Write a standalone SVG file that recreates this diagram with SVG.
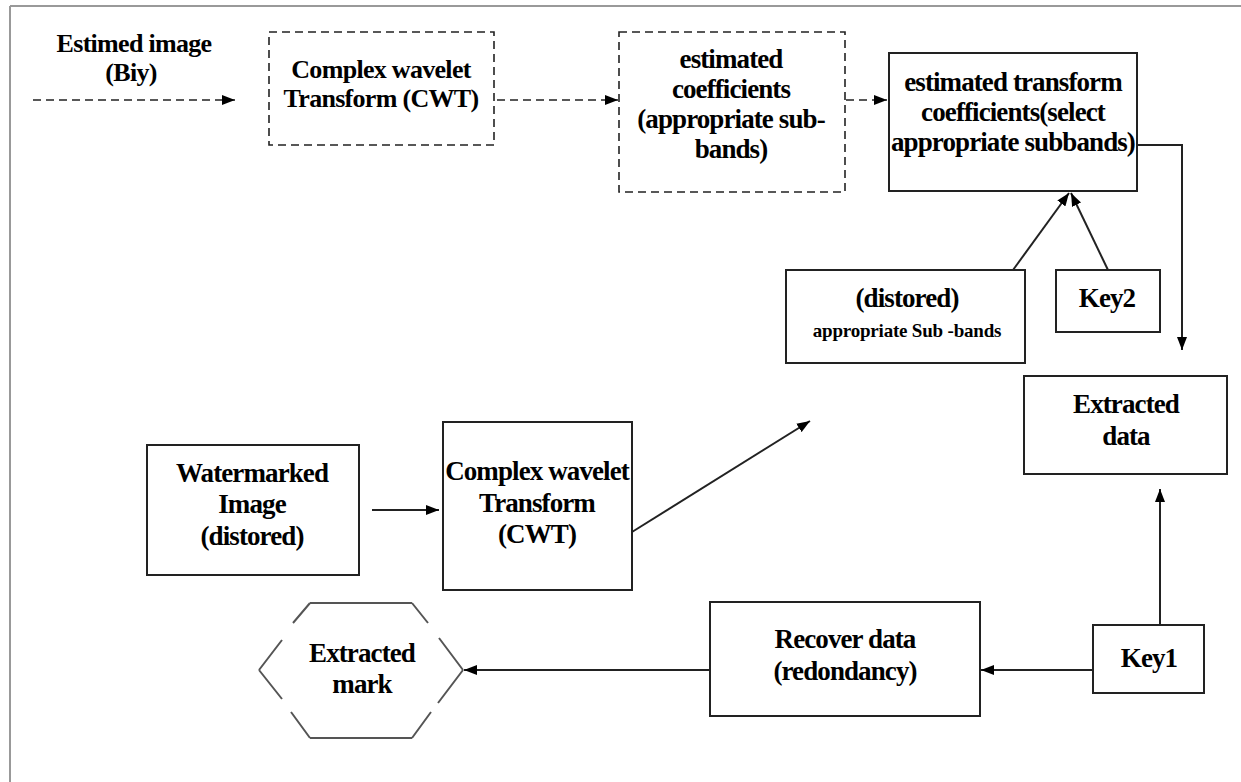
<svg xmlns="http://www.w3.org/2000/svg" width="1241" height="782" viewBox="0 0 1241 782">
<style>
.t{font-family:"Liberation Serif","Times New Roman",serif;font-weight:bold;font-size:27px;fill:#000;text-anchor:middle;letter-spacing:-0.9px}
.m{font-size:26px;letter-spacing:-0.7px}
.s{font-size:19px;letter-spacing:-0.2px}
.box{fill:#fff;stroke:#222;stroke-width:2}
.dbox{fill:#fff;stroke:#222;stroke-width:1.6;stroke-dasharray:8 5}
.ln{fill:none;stroke:#222;stroke-width:2}
.dl{fill:none;stroke:#222;stroke-width:1.6;stroke-dasharray:8 5}
.hex{fill:none;stroke:#555;stroke-width:2}
</style>
<defs>
<marker id="ah" viewBox="0 0 13 10" refX="13" refY="5" markerWidth="13" markerHeight="10" markerUnits="userSpaceOnUse" orient="auto">
<path d="M0,0 L13,5 L0,10 z" fill="#000"/>
</marker>
</defs>
<rect width="1241" height="782" fill="#fff"/>
<g id="frame">
<line x1="10" y1="6" x2="1241" y2="6" stroke="#999" stroke-width="2"/>
<line x1="10" y1="6" x2="10" y2="782" stroke="#999" stroke-width="2"/>
</g>
<g id="estimed-image">
<text class="t m" x="134" y="52">Estimed image</text>
<text class="t m" x="131" y="81">(Biy)</text>
</g>
<g id="cwt-top">
<rect class="dbox" x="269" y="32" width="225" height="113"/>
<text class="t m" x="381" y="78">Complex wavelet</text>
<text class="t m" x="381" y="107">Transform (CWT)</text>
</g>
<g id="est-coeff">
<rect class="dbox" x="619" y="32" width="226" height="160"/>
<text class="t" x="731" y="68">estimated</text>
<text class="t" x="731" y="98">coefficients</text>
<text class="t" x="731" y="128">(appropriate sub-</text>
<text class="t" x="731" y="158">bands)</text>
</g>
<g id="est-transform">
<rect class="box" x="889" y="53" width="248" height="138"/>
<text class="t" x="1013" y="91">estimated transform</text>
<text class="t" x="1013" y="121">coefficients(select</text>
<text class="t" x="1013" y="151">appropriate subbands)</text>
</g>
<g id="distored-subbands">
<rect class="box" x="786" y="270" width="239" height="93"/>
<text class="t" x="907" y="307">(distored)</text>
<text class="t s" x="907" y="337">appropriate Sub -bands</text>
</g>
<g id="key2">
<rect class="box" x="1056" y="270" width="104" height="62"/>
<text class="t" x="1107" y="307">Key2</text>
</g>
<g id="extracted-data">
<rect class="box" x="1024" y="376" width="203" height="98"/>
<text class="t" x="1126" y="413">Extracted</text>
<text class="t" x="1126" y="445">data</text>
</g>
<g id="watermarked">
<rect class="box" x="147" y="445" width="212" height="130"/>
<text class="t" x="252" y="482">Watermarked</text>
<text class="t" x="252" y="513">Image</text>
<text class="t" x="252" y="545">(distored)</text>
</g>
<g id="cwt-bottom">
<rect class="box" x="443" y="422" width="189" height="168"/>
<text class="t" x="537" y="480">Complex wavelet</text>
<text class="t" x="537" y="512">Transform</text>
<text class="t" x="537" y="543">(CWT)</text>
</g>
<g id="key1">
<rect class="box" x="1093" y="625" width="111" height="68"/>
<text class="t" x="1149" y="667">Key1</text>
</g>
<g id="recover">
<rect class="box" x="710" y="602" width="270" height="114"/>
<text class="t" x="845" y="648">Recover data</text>
<text class="t" x="845" y="680">(redondancy)</text>
</g>
<g id="extracted-mark">
<path class="hex" d="M310,603 H412 M412,603 L428,623 M439,638 L463,670 M463,670 L438,703 M431,712 L412,738 M412,738 H310 M310,738 L291,712 M282,699 L259,670 M259,670 L282,640 M293,623 L310,603"/>
<text class="t" x="362" y="662">Extracted</text>
<text class="t" x="362" y="693">mark</text>
</g>
<g id="connectors">
<line class="dl" x1="33" y1="100" x2="235" y2="100" marker-end="url(#ah)"/>
<line class="dl" x1="497" y1="100" x2="618" y2="100" marker-end="url(#ah)"/>
<line class="dl" x1="846" y1="100" x2="887" y2="100" marker-end="url(#ah)"/>
<path class="ln" d="M1137,145 H1182 V350" marker-end="url(#ah)"/>
<line class="ln" x1="1013" y1="270" x2="1069" y2="193" marker-end="url(#ah)"/>
<line class="ln" x1="1108" y1="270" x2="1071" y2="193" marker-end="url(#ah)"/>
<line class="ln" x1="372" y1="510" x2="439" y2="510" marker-end="url(#ah)"/>
<line class="ln" x1="632" y1="532" x2="810" y2="421" marker-end="url(#ah)"/>
<line class="ln" x1="1160" y1="625" x2="1160" y2="489" marker-end="url(#ah)"/>
<line class="ln" x1="1093" y1="670" x2="981" y2="670" marker-end="url(#ah)"/>
<line class="ln" x1="710" y1="670" x2="464" y2="670" marker-end="url(#ah)"/>
</g>
</svg>
